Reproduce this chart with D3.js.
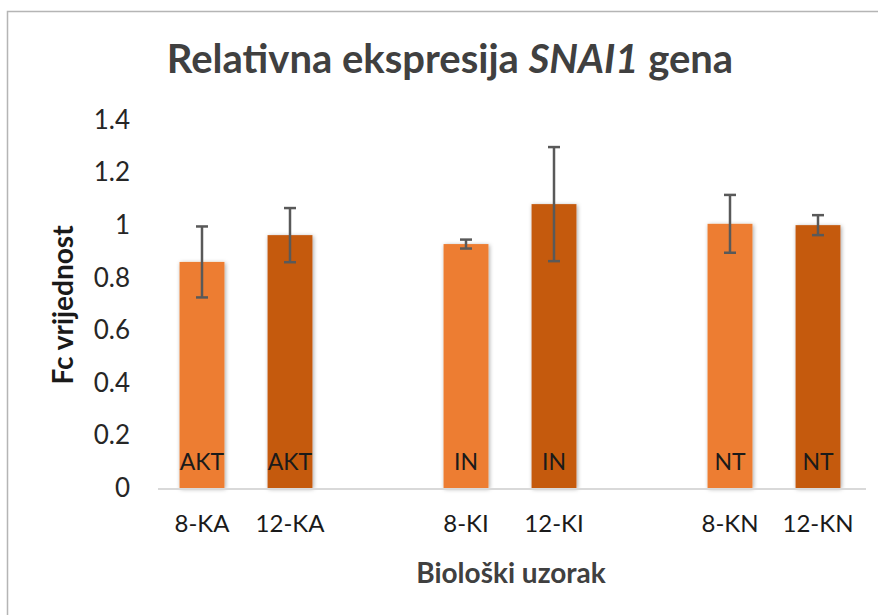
<!DOCTYPE html>
<html>
<head>
<meta charset="utf-8">
<script src="https://cdn.jsdelivr.net/npm/d3@7"></script>
<style>
  html, body { margin: 0; padding: 0; background: #fff; }
  svg { display: block; font-family: Lato, "Open Sans", sans-serif; }
</style>
</head>
<body>
<svg id="chart" width="878" height="615"></svg>
<script>
// Sample slots along the x axis; blank slots separate the three groups
const categories = ["8-KA", "12-KA", "", "8-KI", "12-KI", " ", "8-KN", "12-KN"];
const samples    = ["8-KA", "12-KA", "8-KI", "12-KI", "8-KN", "12-KN"];
const fcValues   = [0.86, 0.962, 0.928, 1.08, 1.005, 1.0];
const errors     = [0.135, 0.103, 0.017, 0.217, 0.11, 0.038];
const barLabels  = ["AKT", "AKT", "IN", "IN", "NT", "NT"];
const barShade   = ["light", "dark", "light", "dark", "light", "dark"];
const yTicks     = [0, 0.2, 0.4, 0.6, 0.8, 1, 1.2, 1.4];

const colors = { light: "#ED7D31", dark: "#C55A11" };

const svg = d3.select("#chart");
const margin = { top: 120, right: 16, bottom: 127, left: 158 };
const width = 878, height = 615;

// chart frame (only the top and left edges fall inside the view)
svg.append("rect")
  .attr("x", 7.5).attr("y", 11.5)
  .attr("width", 900).attr("height", 700)
  .attr("fill", "none").attr("stroke", "#b5b5b5").attr("stroke-width", 1.5);

const defs = svg.append("defs");
const shadow = defs.append("filter").attr("id", "barShadow")
  .attr("x", "-20%").attr("y", "-20%").attr("width", "140%").attr("height", "140%");
shadow.append("feDropShadow")
  .attr("dx", 1).attr("dy", 1).attr("stdDeviation", 2.2)
  .attr("flood-color", "#000").attr("flood-opacity", 0.35);

const x = d3.scaleBand()
  .domain(categories)
  .range([margin.left, width - margin.right])
  .paddingInner(0.49)
  .paddingOuter(0.245);

const y = d3.scaleLinear()
  .domain([0, 1.4])
  .range([height - margin.bottom, margin.top]);

// y axis tick labels (no axis line)
const yAxis = svg.append("g")
  .attr("transform", `translate(${margin.left},0)`)
  .call(d3.axisLeft(y).tickValues(yTicks).tickFormat(d3.format("~g")).tickSize(0).tickPadding(28));
yAxis.select(".domain").remove();
yAxis.selectAll("text")
  .attr("font-size", 26).attr("fill", "#262626")
  .attr("font-family", "Lato, sans-serif");

// bars
const data = samples.map((s, i) => ({
  sample: s, value: fcValues[i], err: errors[i], label: barLabels[i], shade: barShade[i]
}));

svg.append("g").selectAll("rect")
  .data(data)
  .join("rect")
  .attr("x", d => x(d.sample))
  .attr("width", x.bandwidth())
  .attr("y", d => y(d.value))
  .attr("height", d => y(0) - y(d.value))
  .attr("fill", d => colors[d.shade])
  .attr("filter", "url(#barShadow)");

// baseline
svg.append("line")
  .attr("x1", margin.left).attr("x2", width - margin.right + 4)
  .attr("y1", y(0) + 1).attr("y2", y(0) + 1)
  .attr("stroke", "#d9d9d9").attr("stroke-width", 2);

// error bars
const eb = svg.append("g").attr("stroke", "#595959").attr("stroke-width", 2.5);
data.forEach(d => {
  const cx = x(d.sample) + x.bandwidth() / 2;
  eb.append("line").attr("x1", cx).attr("x2", cx)
    .attr("y1", y(d.value - d.err)).attr("y2", y(d.value + d.err));
  [d.value - d.err, d.value + d.err].forEach(v => {
    eb.append("line").attr("x1", cx - 6).attr("x2", cx + 6)
      .attr("y1", y(v)).attr("y2", y(v));
  });
});

// in-bar labels
svg.append("g").selectAll("text")
  .data(data)
  .join("text")
  .attr("x", d => x(d.sample) + x.bandwidth() / 2)
  .attr("y", y(0) - 18)
  .attr("text-anchor", "middle")
  .attr("font-size", 23)
  .attr("fill", "#1a1a1a")
  .text(d => d.label);

// x axis category labels
const xAxis = svg.append("g")
  .attr("transform", `translate(0,${y(0)})`)
  .call(d3.axisBottom(x).tickSize(0).tickPadding(27));
xAxis.select(".domain").remove();
xAxis.selectAll("text")
  .attr("font-size", 24).attr("fill", "#1a1a1a")
  .attr("font-family", "Lato, sans-serif");

// titles
svg.append("text")
  .attr("x", 450).attr("y", 73)
  .attr("text-anchor", "middle")
  .attr("font-size", 40).attr("font-weight", "bold").attr("fill", "#404040")
  .call(t => {
    t.append("tspan").text("Relativna ekspresija ");
    t.append("tspan").attr("font-style", "italic").text("SNAI1");
    t.append("tspan").text(" gena");
  });

svg.append("text")
  .attr("x", 511).attr("y", 583)
  .attr("text-anchor", "middle")
  .attr("font-size", 28).attr("font-weight", "bold").attr("fill", "#404040")
  .text("Biološki uzorak");

svg.append("text")
  .attr("transform", "translate(73,305) rotate(-90)")
  .attr("text-anchor", "middle")
  .attr("font-size", 28).attr("font-weight", "bold").attr("fill", "#1a1a1a")
  .text("Fc vrijednost");
</script>
</body>
</html>
